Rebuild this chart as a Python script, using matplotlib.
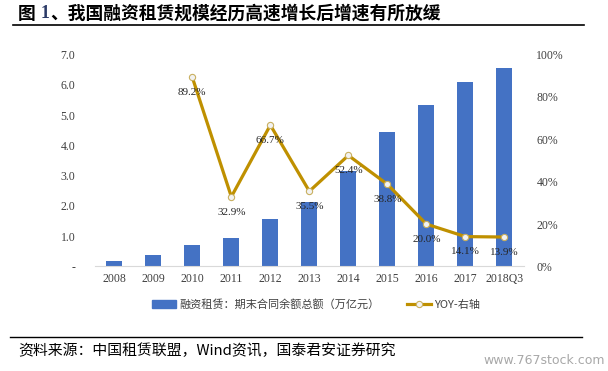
import matplotlib
matplotlib.use("Agg")
import matplotlib.pyplot as plt
from matplotlib.lines import Line2D
from matplotlib.patches import Rectangle

# data
years = ["2008", "2009", "2010", "2011", "2012", "2013", "2014",
         "2015", "2016", "2017", "2018Q3"]
balance = [0.18, 0.38, 0.72, 0.94, 1.57, 2.12, 3.17, 4.45, 5.33, 6.08, 6.54]
yoy_years = ["2010", "2011", "2012", "2013", "2014", "2015", "2016", "2017", "2018Q3"]
yoy = [89.2, 32.9, 66.7, 35.5, 52.4, 38.8, 20.0, 14.1, 13.9]
left_ticks = [0, 1, 2, 3, 4, 5, 6, 7]
left_labels = ["-", "1.0", "2.0", "3.0", "4.0", "5.0", "6.0", "7.0"]
right_ticks = [0, 20, 40, 60, 80, 100]

BAR = "#4472C4"
GOLD = "#BF9000"
SERIF = ["Liberation Serif", "DejaVu Serif"]
CJK = ["Noto Sans CJK SC", "DejaVu Sans"]

fig = plt.figure(figsize=(6.08, 3.71), dpi=100)
ax = fig.add_axes([0.156, 0.2817, 0.7056, 0.5713])
ax2 = ax.twinx()

x = list(range(len(years)))
ax.bar(x, balance, width=0.41, color=BAR, zorder=2)
ax.set_xlim(-0.5, 10.5)
ax.set_ylim(0, 7)
ax.set_yticks(left_ticks)
ax.set_yticklabels(left_labels)
ax.set_xticks(x)
ax.set_xticklabels(years)

xl = [years.index(y) for y in yoy_years]
ax2.plot(xl, yoy, color=GOLD, lw=2.3, marker="o", ms=4.5,
         mfc="#F2F2F2", mec="#C9B060", mew=0.8, zorder=3)
for xi, v in zip(xl, yoy):
    ax2.annotate(f"{v:.1f}%", (xi, v), xytext=(0, -11), textcoords="offset points",
                 ha="center", va="center", fontsize=8, family=SERIF, color="#262626")
ax2.set_ylim(0, 100)
ax2.set_yticks(right_ticks)
ax2.set_yticklabels([f"{t}%" for t in right_ticks])

for a in (ax, ax2):
    for s in a.spines.values():
        s.set_visible(False)
    a.tick_params(length=0, labelsize=8.5, colors="#404040")
    for lab in a.get_xticklabels() + a.get_yticklabels():
        lab.set_family(SERIF)
ax.spines["bottom"].set_visible(True)
ax.spines["bottom"].set_color("#D9D9D9")
ax.tick_params(axis="y", pad=14)
ax.tick_params(axis="x", pad=5)
ax2.tick_params(axis="y", pad=9)

# legend
h_bar = Rectangle((0, 0), 1, 0.45, color=BAR)
h_line = Line2D([], [], color=GOLD, lw=2.3, marker="o", ms=4.5,
                mfc="#F2F2F2", mec="#C9B060", mew=0.8)
leg = fig.legend([h_bar, h_line], ["融资租赁：期末合同余额总额（万亿元）", "YOY-右轴"],
                 loc="center", bbox_to_anchor=(0.52, 0.18), ncol=2, frameon=False,
                 prop={"family": CJK, "size": 8}, handlelength=2.2,
                 columnspacing=2.4, handletextpad=0.3)
for t in leg.get_texts():
    t.set_color("#404040")

# title, rules and footer
fig.text(0.03, 0.963, "图 ", fontsize=12.8, weight="bold", family=CJK, va="center")
fig.text(0.066, 0.963, "1", fontsize=12.8, weight="bold", family=SERIF,
         va="center", color="#2B3A67")
fig.text(0.082, 0.963, "、我国融资租赁规模经历高速增长后增速有所放缓", fontsize=12.8,
         weight="bold", family=CJK, va="center")
fig.add_artist(Line2D([0.022, 0.96], [0.932, 0.932], color="black", lw=1.2))
fig.add_artist(Line2D([0.017, 0.957], [0.092, 0.092], color="black", lw=1.0))
fig.text(0.03, 0.055, "资料来源：中国租赁联盟，Wind资讯，国泰君安证券研究",
         fontsize=10.7, family=CJK, va="center")
fig.text(0.995, 0.028, "www.767stock.com", fontsize=9, family=["DejaVu Sans"],
         color="#A8A8A8", ha="right", va="center")

fig.savefig("out.png", dpi=100)
